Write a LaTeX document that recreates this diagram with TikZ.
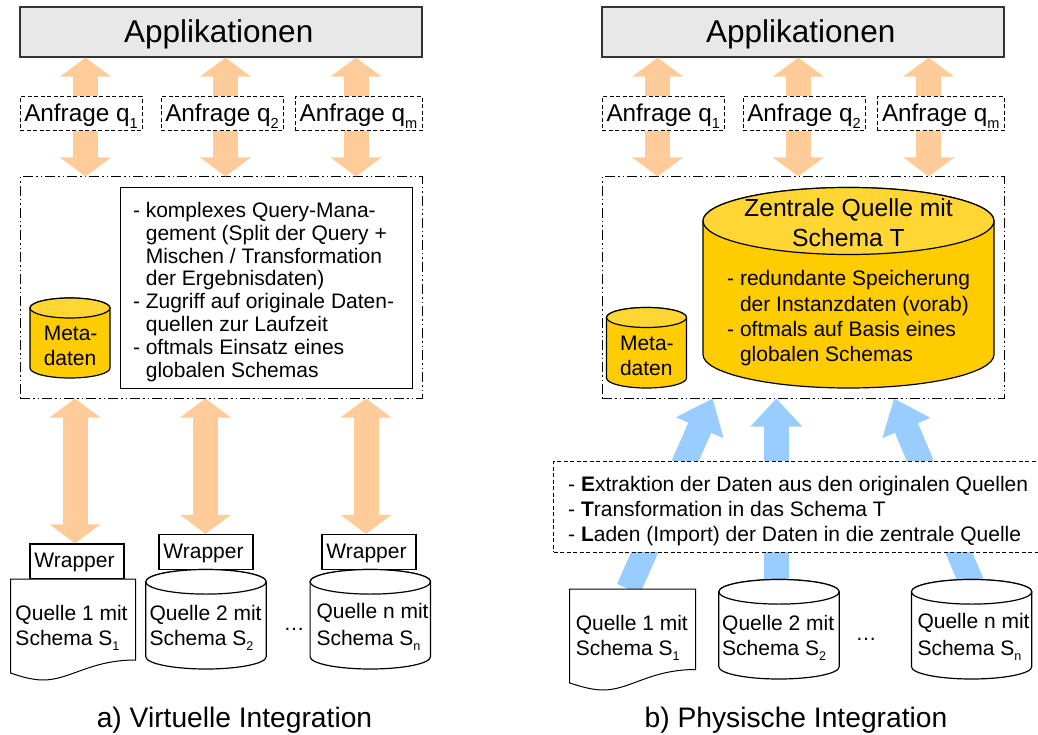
\documentclass[tikz,border=0pt]{standalone}
\usepackage{fontspec}
\setmainfont{Liberation Sans}
\usetikzlibrary{arrows.meta}
\definecolor{boxgray}{HTML}{E8E8E8}
\definecolor{pipeorange}{HTML}{FFCC99}
\definecolor{pipeblue}{HTML}{99CCFF}
\definecolor{storeyellow}{HTML}{FFCC00}
\definecolor{storetop}{HTML}{FFD633}
\newcommand{\lowtext}[1]{\raisebox{-0.28em}{\scalebox{0.6}{#1}}}
\newcommand{\fs}[2]{\fontsize{#1}{#2}\selectfont}
% name, centre x, top y, bottom y, x radius, y radius, body fill, end fill
\newcommand{\storecyl}[8]{
    \node[inner sep=0pt,minimum width=#5*2pt,minimum height=#4pt-#3pt] (#1) at ({#2},{(#3+#4)/2}) {};
    \draw[store,fill=#7] ({#2-#5},{#3+#6}) -- ({#2-#5},{#4-#6})
        arc[start angle=180,end angle=360,x radius=#5pt,y radius=#6pt]
        -- ({#2+#5},{#3+#6}) arc[start angle=0,end angle=180,x radius=#5pt,y radius=#6pt] -- cycle;
    \draw[store,fill=#8] ({#2},{#3+#6}) ellipse[x radius=#5pt,y radius=#6pt];
}

\begin{document}
\begin{tikzpicture}[x=1pt,y=-1pt,line width=1pt]
    \tikzstyle{app}=[draw=black!80,fill=boxgray,line width=1.2pt,minimum width=402pt,minimum height=50pt,inner sep=0pt,text height=22pt,text depth=0pt,font=\fs{31.5}{36}]
    \tikzstyle{query}=[draw,dash pattern=on 4pt off 2.5pt,minimum height=34pt,inner sep=0pt,text height=15.4pt,text depth=0pt,font=\fs{24.3}{28}]
    \tikzstyle{mediator}=[draw,dash pattern=on 10pt off 3pt on 1.5pt off 3pt on 1.5pt off 3pt,minimum width=402pt,minimum height=221pt,inner sep=0pt]
    \tikzstyle{wrapper}=[draw,fill=white,line width=1.2pt,minimum width=94pt,minimum height=35pt,inner sep=0pt,text height=12.4pt,text depth=0pt,font=\fs{21}{25}]
    \tikzstyle{store}=[draw,line width=1.2pt]
    \tikzstyle{document}=[draw,fill=white]
    \tikzstyle{annot}=[anchor=base west,align=left,inner sep=0pt,font=\fs{21}{25}]
    \tikzstyle{caption}=[anchor=base,inner sep=0pt,font=\fs{28.2}{32}]
    \tikzstyle{orange pipe}=[line width=25pt,draw=pipeorange,-{Triangle[length=19pt,width=50pt,fill=pipeorange]}]
    \tikzstyle{orange both}=[line width=25pt,draw=pipeorange,{Triangle[length=19pt,width=50pt,fill=pipeorange]}-{Triangle[length=19pt,width=50pt,fill=pipeorange]}]
    \tikzstyle{blue pipe}=[line width=25pt,draw=pipeblue,-{Triangle[length=32pt,width=50pt,fill=pipeblue]}]
    \tikzstyle{blue straight}=[line width=25pt,draw=pipeblue,-{Triangle[length=28pt,width=50pt,fill=pipeblue]}]

    \useasboundingbox (0,0) rectangle (1038,735);

    % Draw the layers of the left part
    \node[app] (A-app) at (221,32) {Applikationen\hspace*{4.5pt}};
    \foreach \name / \x / \w / \sub in {1/81/122/1,2/222/122/2,3/358.5/127/m}
        \node[query,minimum width=\w pt] (A-q\name) at (\x,114) {Anfrage q\lowtext{\sub}};
    \node[mediator] (A-med) at (221,287.5) {};

    % Draw the layers of the right part
    \node[app] (B-app) at (803,32) {Applikationen\hspace*{4.5pt}};
    \foreach \name / \x / \w / \sub in {1/663.25/122/1,2/804/122/2,3/940.75/127/m}
        \node[query,minimum width=\w pt] (B-q\name) at (\x,114) {Anfrage q\lowtext{\sub}};
    \node[mediator] (B-med) at (803,287.5) {};

    % Arrows between applications, queries and the middle layer
    \foreach \name / \x in {1/85.5,2/225.5,3/356}
    {
        \coordinate (A-x\name) at (\x,0);
        \draw[orange pipe] (A-q\name.north -| A-x\name) -- (A-app.south -| A-x\name);
        \draw[orange pipe] (A-q\name.south -| A-x\name) -- (A-med.north -| A-x\name);
    }
    \foreach \name / \x in {1/657.7,2/798.3,3/928.7}
    {
        \coordinate (B-x\name) at (\x,0);
        \draw[orange pipe] (B-q\name.north -| B-x\name) -- (B-app.south -| B-x\name);
        \draw[orange pipe] (B-q\name.south -| B-x\name) -- (B-med.north -| B-x\name);
    }

    % Draw the wrappers of the left part
    \node[wrapper] (W-1) at (77,561.5) {Wrapper\hspace*{5pt}};
    \node[wrapper] (W-2) at (206,552) {Wrapper\hspace*{5pt}};
    \node[wrapper] (W-3) at (369,552) {Wrapper\hspace*{5pt}};

    \foreach \name / \x in {1/75,2/205.5,3/366}
    {
        \coordinate (A-w\name) at (\x,0);
        \draw[orange both] (W-\name.north -| A-w\name) -- (A-med.south -| A-w\name);
    }

    % Blue arrows run behind the dashed box
    \coordinate (B-s1) at (628.5,589);
    \coordinate (B-t1) at (712.7,398);
    \coordinate (B-s2) at (776.3,585);
    \coordinate (B-s3) at (972.5,585);
    \coordinate (B-t3) at (894,398);
    \draw[blue pipe] (B-s1) -- (B-med.south -| B-t1);
    \draw[blue straight] (B-s2) -- (B-med.south -| B-s2);
    \draw[blue pipe] (B-s3) -- (B-med.south -| B-t3);

    \node[draw,fill=white,dash pattern=on 4pt off 2.5pt,minimum width=488pt,minimum height=91pt,inner sep=0pt] (etl) at (797.5,506.8) {};
    \node[annot] (etl-text) at (567.7,541) {- \textbf{E}xtraktion der Daten aus den originalen Quellen\\- \textbf{T}ransformation in das Schema T\\- \textbf{L}aden (Import) der Daten in die zentrale Quelle};

    % Draw the left middle layer
    \node[draw,fill=white,minimum width=292pt,minimum height=201pt,inner sep=0pt] (A-mgmt) at (266,288) {};
    \node[annot,font=\fs{21}{22.8}] (A-mgmt-text) at (132.5,377) {- komplexes Query-Mana-\\\phantom{- }gement (Split der Query +\\\phantom{- }Mischen / Transformation\\\phantom{- }der Ergebnisdaten)\\- Zugriff auf originale Daten-\\\phantom{- }quellen zur Laufzeit\\- oftmals Einsatz eines\\\phantom{- }globalen Schemas};
    \storecyl{A-meta}{70}{298}{378}{40}{10}{storeyellow}{storetop}
    \node[annot] (A-meta-text) at (43.3,365) {Meta-\\daten};

    % Draw the right middle layer
    \storecyl{B-meta}{646.5}{307.5}{388}{40}{10}{storeyellow}{storetop}
    \storecyl{B-central}{848.5}{187.5}{388}{145.5}{33.5}{storeyellow}{storetop}
    \node[annot] (B-meta-text) at (619.5,375) {Meta-\\daten};
    \node[annot,anchor=base,align=center,font=\fs{24.7}{30}] (B-central-title) at (848.5,247) {Zentrale Quelle mit\\Schema T};
    \node[annot,font=\fs{21}{25.3}] (B-central-text) at (726.7,361.7) {- redundante Speicherung\\\phantom{- }der Instanzdaten (vorab)\\- oftmals auf Basis eines\\\phantom{- }globalen Schemas};

    % Draw the sources of the left part
    \draw[document] (10.5,579) -- (135.5,579) -- (135.5,660) .. controls (90,660) and (70,680) .. (43,680) .. controls (33,680) and (22,677) .. (10.5,673) -- cycle;
    \storecyl{A-s2}{206}{569.5}{669}{60.2}{12.3}{white}{white}
    \storecyl{A-s3}{370.3}{569.5}{669}{60.2}{12.3}{white}{white}
    \node[annot] (A-t1) at (15,645) {Quelle 1 mit\\Schema S\lowtext{1}};
    \node[annot] (A-t2) at (149,645) {Quelle 2 mit\\Schema S\lowtext{2}};
    \node[annot,font=\fs{21}{26.5}] (A-t3) at (316,645) {Quelle n mit\\Schema S\lowtext{n}};
    \node[annot] (A-dots) at (283,630) {\dots};

    % Draw the sources of the right part
    \draw[document] (569.7,589) -- (695.7,589) -- (695.7,669.5) .. controls (650,669.5) and (630,690) .. (603,690) .. controls (593,690) and (582,687) .. (569.7,683) -- cycle;
    \storecyl{B-s2}{779}{579.5}{679}{60.2}{12.3}{white}{white}
    \storecyl{B-s3}{971.6}{579.5}{679}{60.2}{12.3}{white}{white}
    \node[annot] (B-t1) at (575.3,655) {Quelle 1 mit\\Schema S\lowtext{1}};
    \node[annot] (B-t2) at (721.7,655) {Quelle 2 mit\\Schema S\lowtext{2}};
    \node[annot,font=\fs{21}{26.5}] (B-t3) at (917,655) {Quelle n mit\\Schema S\lowtext{n}};
    \node[annot] (B-dots) at (855,640) {\dots};

    % Annotate the two parts
    \node[caption] (A-cap) at (234.5,727) {a) Virtuelle Integration};
    \node[caption] (B-cap) at (796,727) {b) Physische Integration};
\end{tikzpicture}
\end{document}
